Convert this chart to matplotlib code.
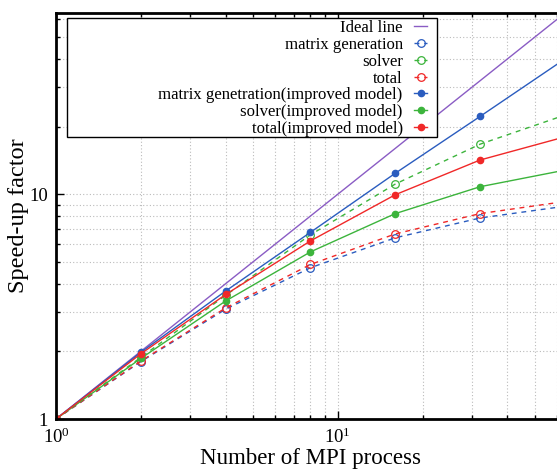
import matplotlib
matplotlib.use("Agg")
import matplotlib.pyplot as plt
from matplotlib.patches import Rectangle
from matplotlib.ticker import FixedLocator, NullFormatter, FixedFormatter

plt.rcParams['font.family'] = ['Liberation Serif', 'DejaVu Serif']
plt.rcParams['mathtext.fontset'] = 'custom'
plt.rcParams['mathtext.rm'] = 'Liberation Serif'
plt.rcParams['mathtext.it'] = 'Liberation Serif:italic'

procs = [1, 2, 4, 8, 16, 32, 64]
ideal = [1, 2, 4, 8, 16, 32, 64]
matgen = [1, 1.80, 3.08, 4.71, 6.40, 7.84, 8.84]
solver = [1, 1.88, 3.55, 6.60, 11.1, 16.7, 22.5]
total = [1, 1.81, 3.12, 4.87, 6.66, 8.20, 9.28]
matgen_imp = [1, 1.98, 3.71, 6.77, 12.4, 22.2, 40.0]
solver_imp = [1, 1.86, 3.35, 5.54, 8.2, 10.8, 12.8]
total_imp = [1, 1.95, 3.58, 6.20, 9.95, 14.2, 18.0]

labels = ["Ideal line", "matrix generation", "solver", "total",
          "matrix genetration(improved model)", "solver(improved model)",
          "total(improved model)"]

purple = "#8a5cc4"
blue = "#2a5cbf"
green = "#3cb43c"
red = "#f02828"

fig = plt.figure(figsize=(5.57, 4.73), dpi=100)
ax = fig.add_axes([56/557, 54/473, 509/557, 406/473])

dash = (0, (3.5, 3.5))
ax.plot(procs, ideal, color=purple, lw=1.0, label=labels[0])
ax.plot(procs, matgen, color=blue, lw=1.0, ls=dash, marker='o', ms=5.5,
        mfc='none', mec=blue, mew=0.9, label=labels[1])
ax.plot(procs, solver, color=green, lw=1.0, ls=dash, marker='o', ms=5.5,
        mfc='none', mec=green, mew=0.9, label=labels[2])
ax.plot(procs, total, color=red, lw=1.0, ls=dash, marker='o', ms=5.5,
        mfc='none', mec=red, mew=0.9, label=labels[3])
ax.plot(procs, matgen_imp, color=blue, lw=1.0, marker='o', ms=4.5,
        label=labels[4])
ax.plot(procs, solver_imp, color=green, lw=1.0, marker='o', ms=4.5,
        label=labels[5])
ax.plot(procs, total_imp, color=red, lw=1.0, marker='o', ms=4.5,
        label=labels[6])

ax.set_xscale('log')
ax.set_yscale('log')
ax.set_xlim(1, 64)
ax.set_ylim(1, 64)

minors = [2, 3, 4, 5, 6, 7, 8, 9, 20, 30, 40, 50, 60]
ax.xaxis.set_major_locator(FixedLocator([1, 10]))
ax.xaxis.set_major_formatter(FixedFormatter([r'$10^0$', r'$10^1$']))
ax.xaxis.set_minor_locator(FixedLocator(minors))
ax.xaxis.set_minor_formatter(NullFormatter())
ax.yaxis.set_major_locator(FixedLocator([1, 10]))
ax.yaxis.set_major_formatter(FixedFormatter(['1', '10']))
ax.yaxis.set_minor_locator(FixedLocator(minors))
ax.yaxis.set_minor_formatter(NullFormatter())

ax.tick_params(which='both', direction='in', top=True, right=True,
               labelsize=13.5, width=1.0)
ax.tick_params(which='major', length=6, pad=6)
ax.tick_params(which='minor', length=3)

ax.grid(True, which='both', color='#bbbbbb', ls=(0, (1, 2)), lw=0.8)
for s in ax.spines.values():
    s.set_linewidth(2.0)

ax.set_xlabel("Number of MPI process", fontsize=16.5, labelpad=1)
ax.set_ylabel("Speed-up factor", fontsize=17.5, labelpad=0)

# legend frame (gnuplot-style key box)
frame = Rectangle((11/509, 282/406), 370/509, 119/406, transform=ax.transAxes,
                  facecolor='white', edgecolor='black', lw=1.0, zorder=4.5)
ax.add_patch(frame)

leg = ax.legend(loc='upper right', bbox_to_anchor=(371/509, 399/406),
                borderaxespad=0, markerfirst=False, frameon=False,
                fontsize=12.1, handlelength=0.75, handletextpad=0.7,
                labelspacing=0.05, borderpad=0.0)
leg.set_zorder(5)

fig.savefig("out.png", dpi=100)
